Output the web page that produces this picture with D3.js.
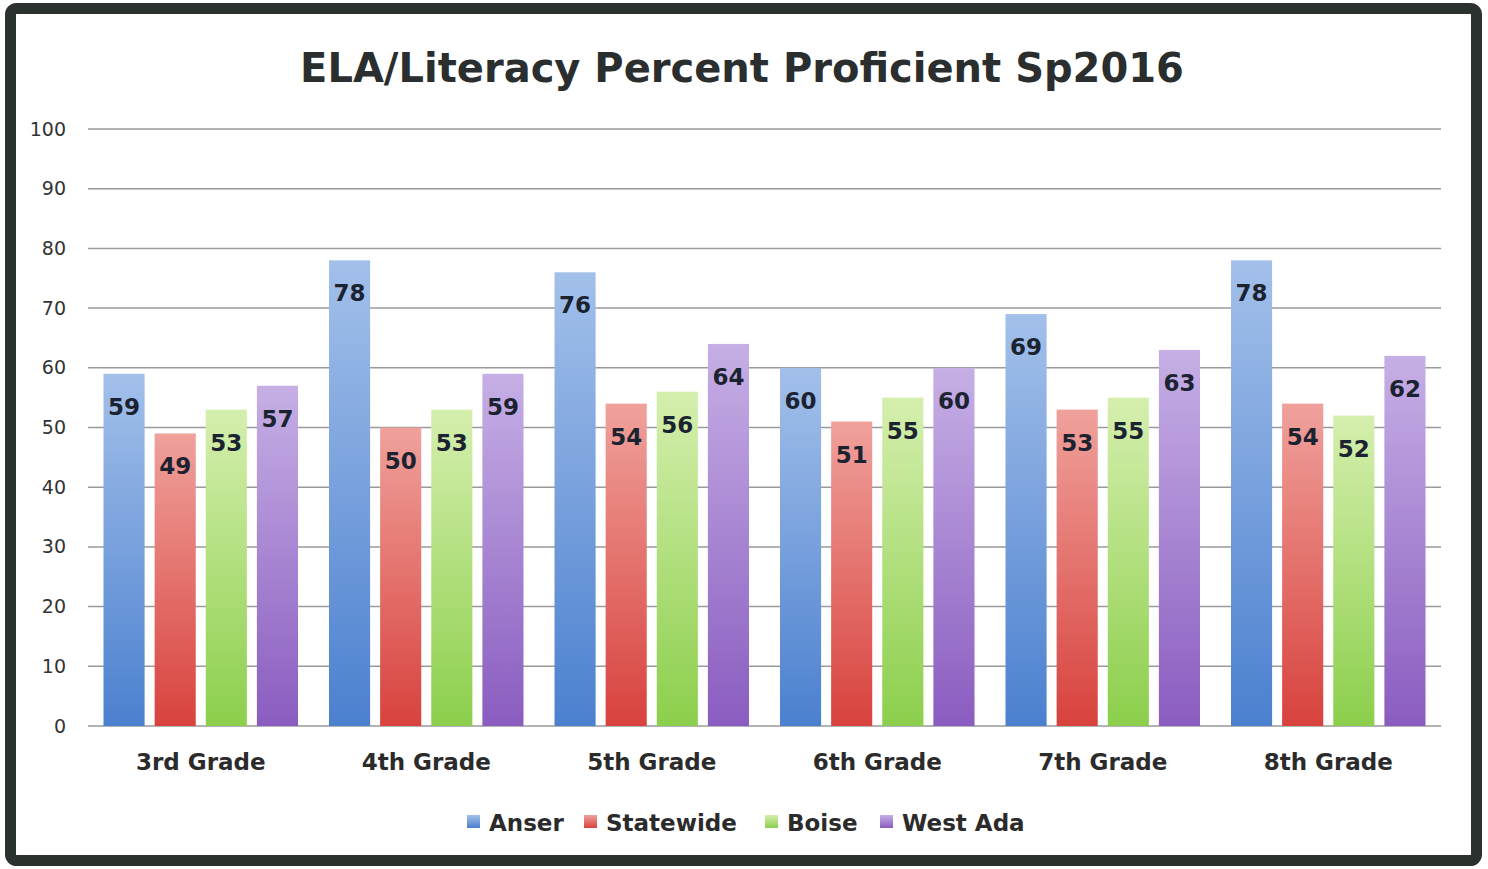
<!DOCTYPE html>
<html>
<head>
<meta charset="utf-8">
<script src="https://cdn.jsdelivr.net/npm/d3@7"></script>
<style>
  body { margin: 0; background: #fff; }
  svg { display: block; }
</style>
</head>
<body>
<svg width="1488" height="869"></svg>
<script>
const grades = ['3rd Grade', '4th Grade', '5th Grade', '6th Grade', '7th Grade', '8th Grade'];
const seriesNames = ['Anser', 'Statewide', 'Boise', 'West Ada'];
const anser = [59, 78, 76, 60, 69, 78];
const statewide = [49, 50, 54, 51, 53, 54];
const boise = [53, 53, 56, 55, 55, 52];
const westAda = [57, 59, 64, 60, 63, 62];
const yTicks = [0, 10, 20, 30, 40, 50, 60, 70, 80, 90, 100];

const allValues = [anser, statewide, boise, westAda];
// top / bottom colours for each series gradient
const topColors = ['#a3c0ea', '#f0a19c', '#d5efae', '#c6afe5'];
const botColors = ['#4b80cf', '#d8423d', '#8ccf4c', '#8a5cc0'];
const fontFam = '"DejaVu Sans", "Liberation Sans", sans-serif';

const svg = d3.select('svg');

// frame
svg.append('rect')
    .attr('x', 10.5).attr('y', 8.5)
    .attr('width', 1466).attr('height', 852)
    .attr('rx', 6)
    .attr('fill', '#fff')
    .attr('stroke', '#2b322e')
    .attr('stroke-width', 11);

const defs = svg.append('defs');
seriesNames.forEach((s, i) => {
    const g = defs.append('linearGradient')
        .attr('id', 'grad' + i)
        .attr('x1', 0).attr('y1', 0).attr('x2', 0).attr('y2', 1);
    g.append('stop').attr('offset', '0%').attr('stop-color', topColors[i]);
    g.append('stop').attr('offset', '100%').attr('stop-color', botColors[i]);
});

const x0 = d3.scaleBand().domain(grades).range([88, 1441]);
const x1 = d3.scaleBand().domain(seriesNames)
    .range([15.5, x0.bandwidth() - 15.5])
    .paddingInner(0.196);
const y = d3.scaleLinear().domain([0, 100]).range([726, 129]);

// title
svg.append('text')
    .attr('x', 742).attr('y', 82)
    .attr('text-anchor', 'middle')
    .attr('font-family', fontFam)
    .attr('font-weight', 'bold')
    .attr('font-size', 40)
    .attr('fill', '#2a2e2e')
    .text('ELA/Literacy Percent Proficient Sp2016');

// gridlines
svg.append('g')
    .selectAll('line')
    .data(yTicks)
    .join('line')
    .attr('x1', 88).attr('x2', 1441)
    .attr('y1', d => y(d)).attr('y2', d => y(d))
    .attr('stroke', '#9a9a9a')
    .attr('stroke-width', 1.5);

// y axis labels
const yAxis = svg.append('g')
    .attr('transform', 'translate(66,0)')
    .call(d3.axisLeft(y).tickValues(yTicks).tickSize(0).tickPadding(0));
yAxis.select('.domain').remove();
yAxis.selectAll('text')
    .attr('font-family', fontFam)
    .attr('font-size', 19)
    .attr('fill', '#333');

// bars
const groups = svg.append('g')
    .selectAll('g')
    .data(grades)
    .join('g')
    .attr('transform', d => `translate(${x0(d)},0)`);

groups.selectAll('rect')
    .data((d, gi) => seriesNames.map((s, si) => ({ s, si, v: allValues[si][gi] })))
    .join('rect')
    .attr('x', d => x1(d.s))
    .attr('width', x1.bandwidth())
    .attr('y', d => y(d.v))
    .attr('height', d => y(0) - y(d.v))
    .attr('fill', d => `url(#grad${d.si})`);

groups.selectAll('text')
    .data((d, gi) => seriesNames.map((s, si) => ({ s, si, v: allValues[si][gi] })))
    .join('text')
    .attr('x', d => x1(d.s) + x1.bandwidth() / 2)
    .attr('y', d => y(d.v) + 41)
    .attr('text-anchor', 'middle')
    .attr('font-family', fontFam)
    .attr('font-weight', 'bold')
    .attr('font-size', 23)
    .attr('fill', '#1b2331')
    .text(d => d.v);

// x axis labels
const xAxis = svg.append('g')
    .attr('transform', 'translate(0,726)')
    .call(d3.axisBottom(x0).tickSize(0).tickPadding(0));
xAxis.select('.domain').remove();
xAxis.selectAll('text')
    .attr('dy', 0)
    .attr('y', 44)
    .attr('font-family', fontFam)
    .attr('font-weight', 'bold')
    .attr('font-size', 23)
    .attr('fill', '#2b2b2b');

// legend
const legendX = [467, 584, 765, 880];
const legend = svg.append('g')
    .selectAll('g')
    .data(seriesNames)
    .join('g')
    .attr('transform', (d, i) => `translate(${legendX[i]},815)`);
legend.append('rect')
    .attr('width', 13).attr('height', 13)
    .attr('fill', (d, i) => `url(#grad${i})`);
legend.append('text')
    .attr('x', 22).attr('y', 16)
    .attr('font-family', fontFam)
    .attr('font-weight', 'bold')
    .attr('font-size', 23)
    .attr('fill', '#2b2b2b')
    .text(d => d);
</script>
</body>
</html>
